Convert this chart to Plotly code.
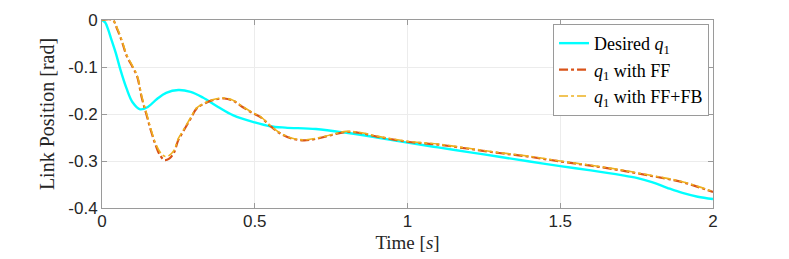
import plotly.graph_objects as go

t_des = [0, 0.01, 0.02, 0.03, 0.045, 0.06, 0.08, 0.10, 0.125, 0.15, 0.18, 0.21, 0.25, 0.29, 0.33, 0.38, 0.43, 0.5,
         0.55, 0.6, 0.7, 0.8, 0.9, 1.0, 1.1, 1.2, 1.3, 1.4, 1.5, 1.6, 1.7, 1.75, 1.8, 1.85, 1.9, 1.95, 2.0]
q_des = [0, -0.005, -0.02, -0.04, -0.07, -0.105, -0.145, -0.175, -0.19, -0.185, -0.168, -0.155, -0.149, -0.153,
         -0.165, -0.185, -0.203, -0.218, -0.226, -0.229, -0.232, -0.240, -0.250, -0.261, -0.271, -0.281, -0.291,
         -0.301, -0.311, -0.320, -0.330, -0.336, -0.345, -0.357, -0.368, -0.376, -0.381]

t_ff = [0, 0.035, 0.05, 0.065, 0.08, 0.10, 0.115, 0.13, 0.145, 0.16, 0.175, 0.19, 0.205, 0.22, 0.235, 0.25, 0.265,
        0.29, 0.31, 0.335, 0.365, 0.40, 0.43, 0.46, 0.49, 0.52, 0.55, 0.58, 0.62, 0.66, 0.70, 0.75, 0.80, 0.85, 0.90,
        1.0, 1.1, 1.2, 1.3, 1.4, 1.5, 1.6, 1.7, 1.75, 1.8, 1.85, 1.9, 1.95, 2.0]
q_ff = [0, 0, -0.02, -0.045, -0.075, -0.10, -0.12, -0.165, -0.20, -0.235, -0.265, -0.288, -0.298, -0.295, -0.283,
        -0.255, -0.238, -0.21, -0.188, -0.178, -0.170, -0.167, -0.172, -0.185, -0.197, -0.207, -0.225, -0.240,
        -0.252, -0.256, -0.253, -0.245, -0.238, -0.241, -0.248, -0.259, -0.265, -0.274, -0.283, -0.291, -0.301,
        -0.310, -0.320, -0.326, -0.332, -0.338, -0.345, -0.355, -0.366]
q_fffb = [0, 0, -0.018, -0.043, -0.073, -0.098, -0.118, -0.162, -0.197, -0.232, -0.262, -0.281, -0.290, -0.288,
          -0.278, -0.252, -0.236, -0.208, -0.187, -0.177, -0.169, -0.166, -0.171, -0.184, -0.196, -0.206, -0.224,
          -0.239, -0.251, -0.255, -0.252, -0.244, -0.237, -0.240, -0.247, -0.258, -0.264, -0.273, -0.282, -0.290,
          -0.300, -0.309, -0.319, -0.325, -0.331, -0.337, -0.344, -0.354, -0.365]

x_ticks = [0, 0.5, 1, 1.5, 2]
x_labels = ["0", "0.5", "1", "1.5", "2"]
y_ticks = [-0.4, -0.3, -0.2, -0.1, 0]
y_labels = ["-0.4", "-0.3", "-0.2", "-0.1", "0"]

serif = "Liberation Serif"
sans = "Liberation Sans"

fig = go.Figure()
fig.add_trace(go.Scatter(x=t_des, y=q_des, mode="lines", line=dict(color="#00FFFF", width=2.4, shape="spline"),
                         name="Desired <i>q</i><sub>1</sub>"))
fig.add_trace(go.Scatter(x=t_ff, y=q_ff, mode="lines",
                         line=dict(color="#D95319", width=2.2, dash="dashdot", shape="spline"),
                         name="<i>q</i><sub>1</sub> with FF"))
fig.add_trace(go.Scatter(x=t_ff, y=q_fffb, mode="lines",
                         line=dict(color="#EDB120", width=1.6, dash="dashdot", shape="spline"),
                         name="<i>q</i><sub>1</sub> with FF+FB"))

axis_common = dict(showline=True, linecolor="#9a9a9a", linewidth=1, mirror="ticks", ticks="inside",
                   ticklen=5, tickcolor="#9a9a9a", showgrid=True, gridcolor="#ececec", gridwidth=1,
                   zeroline=False, automargin=False, tickfont=dict(family=sans, size=17, color="#262626"))

# page body has an 8px default margin; figure sized to fit the 789x259 window
fig.update_layout(
    width=781, height=251, autosize=False,
    margin=dict(l=94, r=76, t=12, b=51, autoexpand=False),
    paper_bgcolor="white", plot_bgcolor="white",
    xaxis=dict(range=[0, 2], tickvals=x_ticks, ticktext=x_labels, ticklabelstandoff=-2,
               title=dict(text="Time [<i>s</i>]", font=dict(family=serif, size=19, color="#262626"), standoff=5),
               **axis_common),
    yaxis=dict(range=[-0.4, 0], tickvals=y_ticks, ticktext=y_labels,
               title=dict(text="Link Position [rad]", font=dict(family=serif, size=20, color="#262626"), standoff=8),
               **axis_common),
    legend=dict(x=0.9935, y=0.979, xanchor="right", yanchor="top", bgcolor="white", bordercolor="#9a9a9a",
                borderwidth=1, font=dict(family=serif, size=18, color="#000000"), itemwidth=30,
                tracegroupgap=0),
    showlegend=True,
)

fig.write_html("out.html")
